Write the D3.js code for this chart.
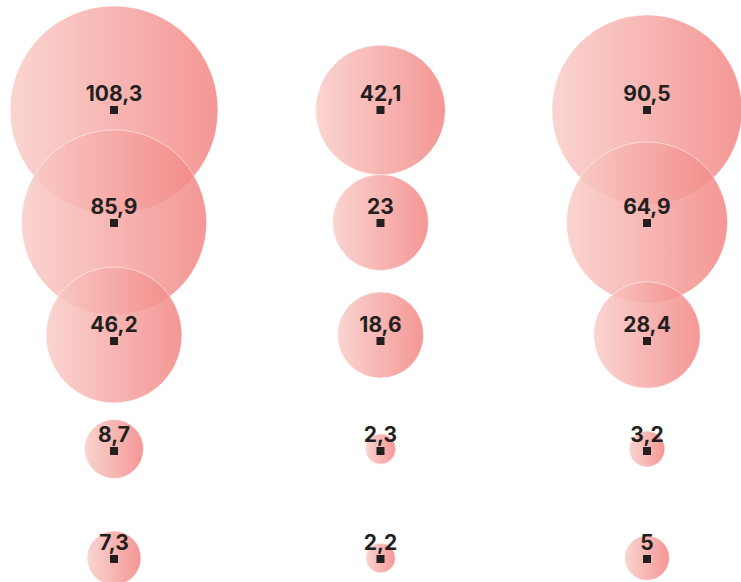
<!DOCTYPE html>
<html>
<head>
<meta charset="utf-8">
<script src="https://cdn.jsdelivr.net/npm/d3@7"></script>
<style>
  html, body { margin: 0; padding: 0; background: #fff; }
  svg { display: block; }
</style>
</head>
<body>
<script>
// Chart data
const columns = ['A', 'B', 'C'];
const rows = ['r1', 'r2', 'r3', 'r4', 'r5'];
const valuesA = [108.3, 85.9, 46.2, 8.7, 7.3];
const valuesB = [42.1, 23, 18.6, 2.3, 2.2];
const valuesC = [90.5, 64.9, 28.4, 3.2, 5];

const width = 741;
const height = 582;

const data = [];
[valuesA, valuesB, valuesC].forEach((vals, ci) => {
  vals.forEach((v, ri) => data.push({ col: columns[ci], row: rows[ri], value: v }));
});

const svg = d3.select('body')
  .append('svg')
  .attr('width', width)
  .attr('height', height);

const defs = svg.append('defs');
const grad = defs.append('linearGradient')
  .attr('id', 'bubbleGrad')
  .attr('x1', '0%').attr('x2', '100%')
  .attr('y1', '0%').attr('y2', '0%');
grad.append('stop').attr('offset', '0%').attr('stop-color', '#f9cdc8');
grad.append('stop').attr('offset', '100%').attr('stop-color', '#f28583');

// Scales
const xScale = d3.scalePoint().domain(columns).range([114, 647]);
// circle centres and marker positions sit on slightly different row lines
const yScale = d3.scaleOrdinal().domain(rows).range([110, 222.5, 335, 449, 558]);
const markY = d3.scaleOrdinal().domain(rows).range([110, 223, 341, 451, 559]);
const rScale = d3.scaleSqrt().domain([0, 108.3]).range([0, 104]);

const fmt = v => String(v).replace('.', ',');

// Bubbles
svg.append('g').selectAll('circle')
  .data(data)
  .enter()
  .append('circle')
  .attr('cx', d => xScale(d.col))
  .attr('cy', d => yScale(d.row))
  .attr('r', d => rScale(d.value))
  .style('fill', 'url(#bubbleGrad)')
  .style('fill-opacity', 0.85)
  .style('stroke', '#fff')
  .style('stroke-opacity', 0.5)
  .style('stroke-width', 1);

// Center markers
const sq = 8;
svg.append('g').selectAll('rect')
  .data(data)
  .enter()
  .append('rect')
  .attr('x', d => xScale(d.col) - sq / 2)
  .attr('y', d => markY(d.row) - sq / 2)
  .attr('width', sq)
  .attr('height', sq)
  .style('fill', '#231f20');

// Labels
svg.append('g').selectAll('text')
  .data(data)
  .enter()
  .append('text')
  .attr('x', d => xScale(d.col))
  .attr('y', d => markY(d.row) - 9)
  .attr('text-anchor', 'middle')
  .style('font-family', 'Inter, "Noto Sans", sans-serif')
  .style('font-weight', 700)
  .style('font-size', '21px')
  .style('fill', '#231f20')
  .text(d => fmt(d.value));
</script>
</body>
</html>
